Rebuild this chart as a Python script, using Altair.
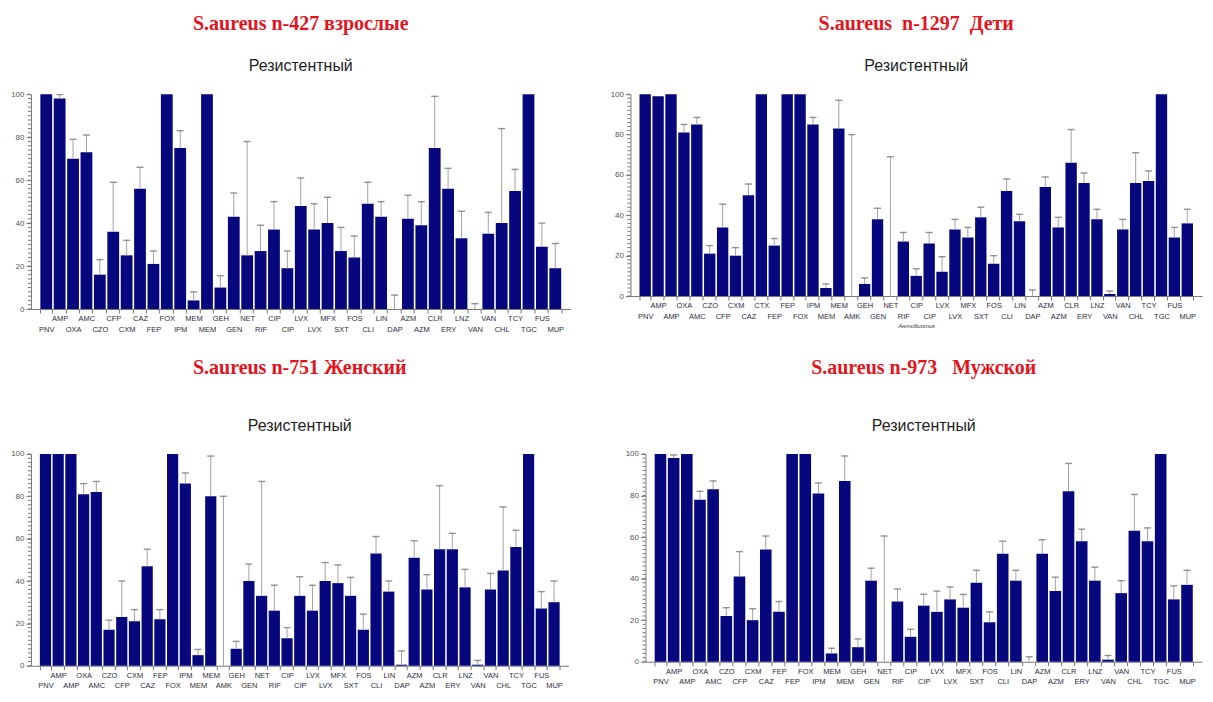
import altair as alt
import pandas as pd

NB = "\u00a0"

# ---------------- data ----------------
labels1 = ["PNV", "AMP", "OXA", "AMC", "CZO", "CFP", "CXM", "CAZ", "FEP", "FOX", "IPM", "MEM", "MEM",
           "GEH", "GEN", "NET", "RIF", "CIP", "CIP", "LVX", "LVX", "MFX", "SXT", "FOS", "CLI", "LIN",
           "DAP", "AZM", "AZM", "CLR", "ERY", "LNZ", "VAN", "VAN", "CHL", "TCY", "TGC", "FUS", "MUP"]
vals1 = [100, 98, 70, 73, 16, 36, 25, 56, 21, 100, 75, 4, 100, 10, 43, 25, 27, 37, 19, 48,
         37, 40, 27, 24, 49, 43, 0, 42, 39, 75, 56, 33, 0, 35, 40, 55, 100, 29, 19]
hi1 = [None, 99.8, 79, 81, 23, 59, 32, 66, 27, None, 83, 8, None, 15.5, 54, 78, 39, 50, 27, 61,
       49, 52, 38, 34, 59, 50, 6.5, 53, 50, 99, 65.5, 45.5, 2.5, 45, 84, 65, None, 40, 30.5]

labels2 = ["PNV", "AMP", "AMP", "OXA", "AMC", "CZO", "CFP", "CXM", "CAZ", "CTX", "FEP", "FEP", "FOX",
           "IPM", "MEM", "MEM", "AMK", "GEH", "GEN", "NET", "RIF", "CIP", "CIP", "LVX", "LVX", "MFX",
           "SXT", "FOS", "CLI", "LIN", "DAP", "AZM", "AZM", "CLR", "ERY", "LNZ", "VAN", "VAN", "CHL",
           "TCY", "TGC", "FUS", "MUP"]
vals2 = [100, 99, 100, 81, 85, 21, 34, 20, 50, 100, 25, 100, 100, 85, 4, 83, 0, 6, 38, 0,
         27, 10, 26, 12, 33, 29, 39, 16, 52, 37, 0, 54, 34, 66, 56, 38, 1, 33, 56, 57, 100, 29, 36]
hi2 = [None, None, None, 85, 88.5, 25, 45.5, 24, 55.5, None, 28.5, None, None, 88.5, 6, 97, 80, 9, 43.5, 69,
       31.5, 13.5, 31.5, 19.5, 38, 34, 44, 20, 58, 40.5, 3, 59, 39, 82.5, 61, 43, 2.5, 38, 71, 62, None, 34, 43]

labels3 = ["PNV", "AMP", "AMP", "OXA", "AMC", "CZO", "CFP", "CXM", "CAZ", "FEP", "FOX", "IPM", "MEM",
           "MEM", "AMK", "GEH", "GEN", "NET", "RIF", "CIP", "CIP", "LVX", "LVX", "MFX", "SXT", "FOS",
           "CLI", "LIN", "DAP", "AZM", "AZM", "CLR", "ERY", "LNZ", "VAN", "VAN", "CHL", "TCY", "TGC",
           "FUS", "MUP"]
vals3 = [100, 100, 100, 81, 82, 17, 23, 21, 47, 22, 100, 86, 5, 80, 0, 8, 40, 33, 26, 13,
         33, 26, 40, 39, 33, 17, 53, 35, 0.5, 51, 36, 55, 55, 37, 0.5, 36, 45, 56, 100, 27, 30]
hi3 = [None, None, None, 86, 87, 21.5, 40, 26.5, 55, 26.5, None, 91, 7.7, 99, 80, 11.5, 48, 87, 38, 18,
       42, 38, 48.7, 47.6, 41.7, 24.4, 61, 40, 7, 59, 43, 85, 62.5, 45.5, 2.5, 43.6, 75, 64, None, 35, 40]

labels4 = ["PNV", "AMP", "AMP", "OXA", "AMC", "CZO", "CFP", "CXM", "CAZ", "FEP", "FEP", "FOX", "IPM",
           "MEM", "MEM", "GEH", "GEN", "NET", "RIF", "CIP", "CIP", "LVX", "LVX", "MFX", "SXT", "FOS",
           "CLI", "LIN", "DAP", "AZM", "AZM", "CLR", "ERY", "LNZ", "VAN", "VAN", "CHL", "TCY", "TGC",
           "FUS", "MUP"]
vals4 = [100, 98, 100, 78, 83, 22, 41, 20, 54, 24, 100, 100, 81, 4, 87, 7, 39, 0, 29, 12,
         27, 24, 30, 26, 38, 19, 52, 39, 0, 52, 34, 82, 58, 39, 1, 33, 63, 58, 100, 30, 37]
hi4 = [None, 99.5, None, 82, 87, 26, 53, 25.5, 60.5, 29, None, None, 86, 6.5, 99, 11, 45, 60.5, 35, 15.6,
       32.5, 34, 36, 32.4, 44, 24, 58, 44, 2.4, 58.7, 40.7, 95.4, 63.8, 45.5, 3, 39, 80.5, 64.4, None, 36.5, 44]

titles = ["S.aureus n-427 взрослые", "S.aureus" + NB + " n-1297" + NB + " Дети",
          "S.aureus n-751 Женский", "S.aureus n-973" + NB + NB + " Мужской"]
subtitle = "Резистентный"
x_title = "Антибиотик"

major_ticks = [0, 20, 40, 60, 80, 100]
minor_ticks = list(range(0, 101, 2))

BAR = "#07077d"
AXC = "#777777"


def panel(labels, vals, hi, title, sub, width, height, sub_gap, xtitle):
    n = len(labels)
    df = pd.DataFrame({"i": list(range(n)), "v": vals, "hi": hi})
    arr = "[" + ",".join("'" + s + "'" for s in labels) + "]"
    xaxis_kw = dict(
        labelExpr=arr + "[datum.value]", labelAngle=0, labelOverlap=False,
        labelPadding={"condition": {"test": "datum.value % 2 == 0", "value": 12}, "value": 1.5},
        tickBand="extent", tickSize=4, tickColor=AXC, domainColor=AXC,
        labelFontSize=7.5, labelColor="#2e2e3c", labelFont="Liberation Sans",
    )
    if xtitle:
        xaxis_kw.update(title=xtitle, titleFontSize=6, titleFontStyle="italic",
                        titleFontWeight="normal", titlePadding=3, titleColor="#333333",
                        titleFont="Liberation Sans")
    else:
        xaxis_kw.update(title=None)
    x = alt.X("i:O", scale=alt.Scale(paddingInner=0.12, paddingOuter=0.7),
              axis=alt.Axis(**xaxis_kw))
    yscale = alt.Scale(domain=[0, 100], nice=False)
    yaxis = alt.Axis(values=major_ticks, tickSize=5, tickColor=AXC, domainColor=AXC,
                     labelFontSize=8, labelColor="#555555", labelFont="Liberation Sans",
                     labelPadding=2, title=None, grid=False)
    base = alt.Chart(df)
    bars = base.mark_bar(color=BAR).encode(x=x, y=alt.Y("v:Q", scale=yscale, axis=yaxis))
    valid = base.transform_filter("isValid(datum.hi)")
    err = valid.mark_rule(color="#a3a3a3", strokeWidth=1).encode(
        x=x, y=alt.Y("v:Q", scale=yscale, axis=yaxis), y2="hi:Q")
    caps = valid.mark_tick(orient="horizontal", color="#666666", size=7, thickness=1.4).encode(
        x=x, y=alt.Y("hi:Q", scale=yscale, axis=yaxis))
    minor = alt.Chart(pd.DataFrame({"m": minor_ticks})).mark_rule(color=AXC, strokeWidth=1).encode(
        y=alt.Y("m:Q", scale=yscale, axis=yaxis), x=alt.value(-3), x2=alt.value(0))
    return alt.layer(bars, err, caps, minor).properties(
        width=width, height=height,
        title=alt.TitleParams(
            text=title, subtitle=sub, anchor="middle",
            font="Liberation Serif", fontSize=20, fontWeight="bold", color="#e3141c",
            subtitleFont="Liberation Sans", subtitleFontSize=16, subtitleColor="#1e1e1e",
            subtitlePadding=sub_gap, offset=16,
        ),
    )


p1 = panel(labels1, vals1, hi1, titles[0] + NB * 25, subtitle + NB * 14, 540, 215, 24, None)
p2 = panel(labels2, vals2, hi2, titles[1], subtitle + NB * 13, 572, 202, 24, x_title)
p3 = panel(labels3, vals3, hi3, titles[2] + NB * 10, subtitle + NB * 14, 538, 212, 40, None)
p4 = panel(labels4, vals4, hi4, NB * 12 + titles[3], subtitle + NB * 13, 557, 208, 40, None)

row1 = alt.hconcat(p1, p2, spacing=38)
row2 = alt.hconcat(p3, p4, spacing=55)

chart = alt.vconcat(row1, row2, spacing=24).properties(
    padding={"left": 2, "top": 5, "right": 2, "bottom": 0}
).configure_view(stroke="transparent").configure_axis(grid=False)

chart.save("out.html", embed_options={"renderer": "svg", "actions": False})
